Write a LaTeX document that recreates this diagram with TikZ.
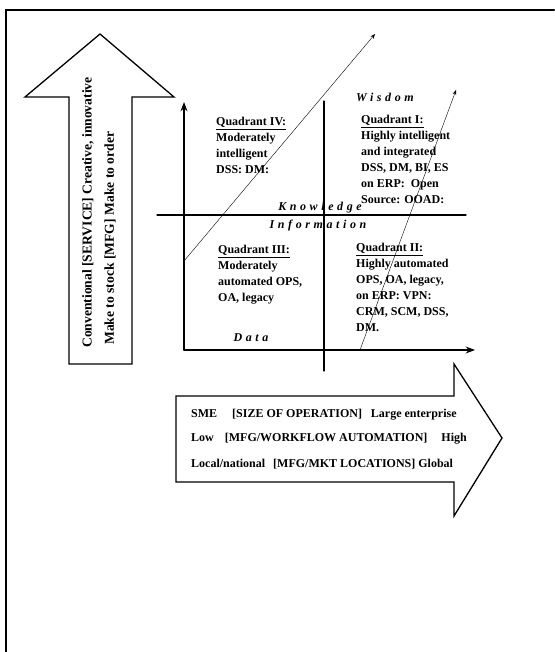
\documentclass[tikz,border=0pt]{standalone}
\usepackage{fontspec}
\setmainfont{Liberation Serif}
\newfontfamily\spacedfont[LetterSpace=30]{Liberation Serif}
\usetikzlibrary{arrows.meta}

\tikzset{
  quadtext/.style={anchor=north west, inner sep=0pt, align=left,
    font=\fontsize{12}{16}\selectfont\bfseries},
  leveltext/.style={inner sep=0pt, font=\fontsize{12}{14}\selectfont\spacedfont\bfseries\itshape},
  bandtext/.style={anchor=base west, inner sep=0pt, font=\fontsize{12}{14}\selectfont\bfseries},
  sidetext/.style={anchor=west, rotate=90, inner sep=0pt, font=\fontsize{13.6}{15}\selectfont\bfseries},
  bigarrow/.style={draw, line width=1.3pt, line join=miter},
}

\begin{document}
\begin{tikzpicture}[x=1pt, y=-1pt, >=Stealth, line cap=round]
  \useasboundingbox (0,0) rectangle (554,652);

  % frame (left and top edges only)
  \draw[line width=2pt] (6,652) -- (6,10) -- (554,10);

  % big up arrow
  \draw[bigarrow] (69,364) -- (69,97) -- (25,97) -- (100,34) -- (174,97)
    -- (132,97) -- (132,364) -- cycle;
  \node[sidetext] (service) at (88,348) {Conventional [SERVICE] Creative, innovative};
  \node[sidetext] (mfg) at (110,345) {Make to stock [MFG] Make to order};

  % big right arrow
  \draw[bigarrow] (176,396) -- (454,396) -- (454,364) -- (502,438) -- (454,516)
    -- (454,482) -- (176,482) -- cycle;
  \node[bandtext] (size) at (191,417) {SME\hspace{15pt}[SIZE OF OPERATION]\hspace{9pt}Large enterprise};
  \node[bandtext] (auto) at (191,441) {Low\hspace{11pt}[MFG/WORKFLOW AUTOMATION]\hspace{14pt}High};
  \node[bandtext] (loc) at (191,467) {Local/national\hspace{8pt}[MFG/MKT LOCATIONS] Global};

  % axes
  \coordinate (origin) at (184,350);
  \coordinate (ytip) at (184,102);
  \coordinate (xtip) at (475,350);
  \draw[line width=1.4pt, ->] (origin) -- (ytip);
  \draw[line width=1.4pt, ->] (origin) -- (xtip);

  % quadrant dividers
  \coordinate (vtop) at (324,101);
  \coordinate (vbot) at (324,371);
  \coordinate (hleft) at (157,215);
  \coordinate (hright) at (466,215);
  \draw[line width=1.1pt] (vtop) -- (vbot);
  \draw[line width=1.1pt] (hleft) -- (hright);

  % diagonal trends
  \coordinate (d1s) at (184,261);
  \coordinate (d1e) at (375,34);
  \coordinate (d2s) at (360,350);
  \coordinate (d2e) at (456,90);
  \draw[thin, ->] (d1s) -- (d1e);
  \draw[thin, ->] (d2s) -- (d2e);

  % levels
  \node[leveltext] (wisdom) at (385,97) {Wisdom};
  \node[leveltext] (knowledge) at (320,208) {Knowledge};
  \node[leveltext] (information) at (318,226) {Information};
  \node[leveltext] (data) at (251,338) {Data};

  % quadrants
  \node[quadtext] (q4) at (216,117) {\underline{Quadrant IV:}\\Moderately\\intelligent\\DSS: DM:};
  \node[quadtext] (q1) at (361,115) {\underline{Quadrant I:}\\Highly intelligent\\and integrated\\DSS, DM, BI, ES\\on ERP:\ \ Open\\Source: OOAD:};
  \node[quadtext] (q3) at (218,245) {\underline{Quadrant III:}\\Moderately\\automated OPS,\\OA, legacy};
  \node[quadtext] (q2) at (356,243) {\underline{Quadrant II:}\\Highly automated\\OPS, OA, legacy,\\on ERP: VPN:\\CRM, SCM, DSS,\\DM.};
\end{tikzpicture}
\end{document}
